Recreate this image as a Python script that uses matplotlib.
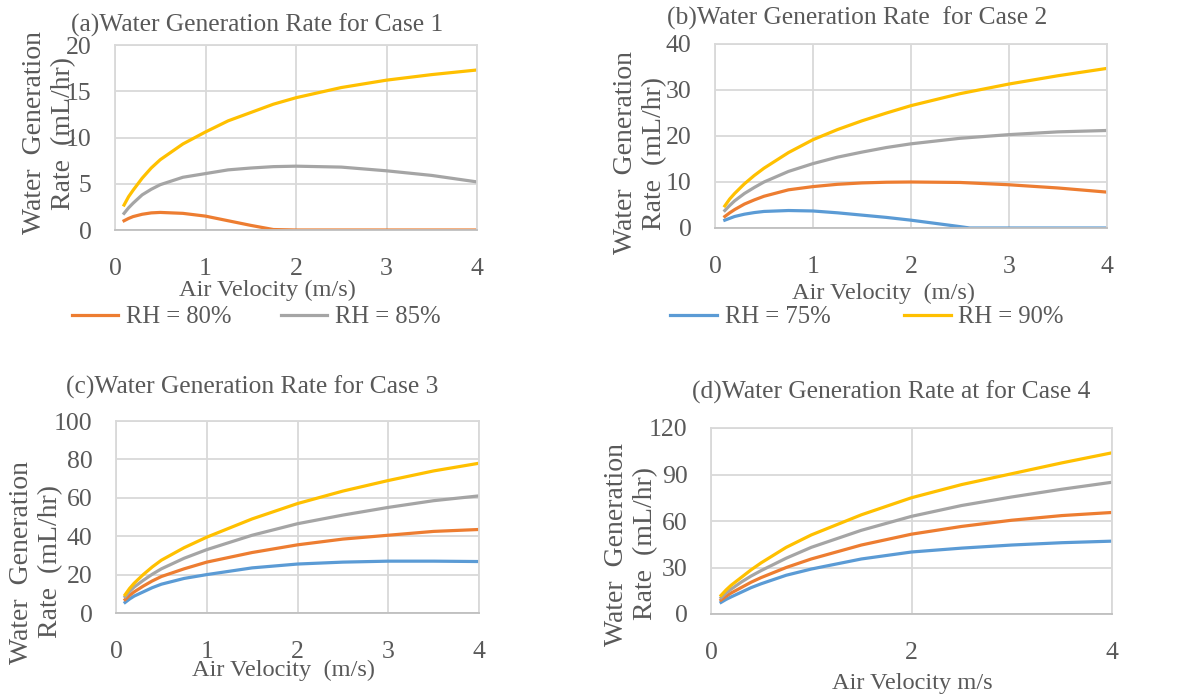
import matplotlib
matplotlib.use('Agg')
import matplotlib.pyplot as plt
from matplotlib.lines import Line2D

plt.rcParams['font.family'] = ['Liberation Serif', 'DejaVu Serif']

# colours used by the spreadsheet the chart came from
c75 = '#5B9BD5'
c80 = '#ED7D31'
c85 = '#A5A5A5'
c90 = '#FFC000'
txt = '#595959'
grid = '#D9D9D9'

# ---- case 1 ----
x1 = [0.1, 0.15, 0.2, 0.3, 0.4, 0.5, 0.75, 1, 1.25, 1.5, 1.75, 2, 2.5, 3, 3.5, 4]
case1_rh80 = [1.0, 1.25, 1.45, 1.7, 1.85, 1.9, 1.8, 1.5, 1.0, 0.5, 0.05, 0, 0, 0, 0, 0]
case1_rh85 = [1.8, 2.4, 2.9, 3.8, 4.4, 4.9, 5.7, 6.1, 6.5, 6.7, 6.85, 6.9, 6.8, 6.4, 5.9, 5.2]
case1_rh90 = [2.7, 3.6, 4.3, 5.6, 6.7, 7.6, 9.3, 10.6, 11.8, 12.7, 13.6, 14.3, 15.4, 16.2, 16.8, 17.3]

# ---- case 2 ----
x2 = [0.1, 0.15, 0.2, 0.3, 0.4, 0.5, 0.75, 1, 1.25, 1.5, 1.75, 2, 2.5, 3, 3.5, 4]
case2_rh80 = [2.5, 3.3, 4.0, 5.2, 6.1, 6.9, 8.3, 9.0, 9.5, 9.8, 9.95, 10, 9.9, 9.4, 8.7, 7.8]
case2_rh85 = [3.8, 4.9, 5.9, 7.5, 8.8, 10, 12.3, 14, 15.4, 16.5, 17.5, 18.3, 19.5, 20.3, 20.9, 21.2]
case2_rh90 = [4.8, 6.3, 7.5, 9.6, 11.4, 13, 16.4, 19.2, 21.4, 23.3, 25, 26.6, 29.2, 31.3, 33.1, 34.7]
x2_rh75 = [0.1, 0.15, 0.2, 0.3, 0.4, 0.5, 0.75, 1, 1.25, 1.5, 1.75, 2, 2.25, 2.5, 2.6, 3, 3.5, 4]
case2_rh75 = [1.7, 2.1, 2.5, 3.0, 3.35, 3.6, 3.8, 3.7, 3.3, 2.8, 2.3, 1.7, 1.0, 0.3, 0, 0, 0, 0]

# ---- case 3 ----
x3 = [0.1, 0.15, 0.2, 0.3, 0.4, 0.5, 0.75, 1, 1.5, 2, 2.5, 3, 3.5, 4]
case3_rh75 = [5.5, 7.3, 8.8, 11, 13.2, 15, 18, 20, 23.5, 25.5, 26.5, 27, 27, 26.8]
case3_rh80 = [7, 9.2, 11, 14, 16.7, 19, 23, 26.5, 31.5, 35.5, 38.5, 40.5, 42.5, 43.5]
case3_rh85 = [8.5, 11.2, 13.5, 17, 20.2, 23, 28.5, 33, 40.5, 46.5, 51, 55, 58.5, 61]
case3_rh90 = [9.5, 12.8, 15.5, 20, 24, 27.5, 34, 39.5, 49, 57, 63.5, 69, 74, 78]

# ---- case 4 ----
x4 = [0.1, 0.15, 0.2, 0.3, 0.4, 0.5, 0.75, 1, 1.5, 2, 2.5, 3, 3.5, 4]
case4_rh75 = [7.5, 9.4, 11, 14, 17, 19.5, 25, 29, 35.5, 40, 42.5, 44.5, 46, 47]
case4_rh80 = [9, 11.4, 13.5, 17, 20.5, 23.5, 30, 35.5, 44.5, 51.5, 56.5, 60.5, 63.5, 65.5]
case4_rh85 = [10.5, 13.5, 16, 20.5, 24.5, 28, 36, 43, 54, 63, 70, 75.5, 80.5, 85]
case4_rh90 = [12, 15.5, 18.5, 23.5, 28.5, 33, 43, 51, 64, 75, 83.5, 90.5, 97.5, 104]

titles = ['(a)Water Generation Rate for Case 1',
          '(b)Water Generation Rate  for Case 2',
          '(c)Water Generation Rate for Case 3',
          '(d)Water Generation Rate at for Case 4']
xlabels = ['Air Velocity (m/s)', 'Air Velocity  (m/s)', 'Air Velocity  (m/s)', 'Air Velocity m/s']
ylabel = 'Water  Generation\nRate  (mL/hr)'

fs_tick = 18.5
fs_title = 18.4
fs_xlab = 17.6
fs_ylab = 20
fs_leg = 17.7
lw = 2.3

fig = plt.figure(figsize=(11.97, 6.99), dpi=100)
W, H = 1197.0, 699.0

def make_axes(l, t, r, b):
    return fig.add_axes([l / W, 1 - b / H, (r - l) / W, (b - t) / H])

axA = make_axes(115, 45, 477, 230)
axB = make_axes(715, 44, 1107, 228)
axC = make_axes(116, 421, 479, 613)
axD = make_axes(711, 428, 1112, 614)

axA.plot(x1, case1_rh80, color=c80, lw=lw)
axA.plot(x1, case1_rh85, color=c85, lw=lw)
axA.plot(x1, case1_rh90, color=c90, lw=lw)

axB.plot(x2_rh75, case2_rh75, color=c75, lw=lw)
axB.plot(x2, case2_rh80, color=c80, lw=lw)
axB.plot(x2, case2_rh85, color=c85, lw=lw)
axB.plot(x2, case2_rh90, color=c90, lw=lw)

axC.plot(x3, case3_rh75, color=c75, lw=lw)
axC.plot(x3, case3_rh80, color=c80, lw=lw)
axC.plot(x3, case3_rh85, color=c85, lw=lw)
axC.plot(x3, case3_rh90, color=c90, lw=lw)

axD.plot(x4, case4_rh75, color=c75, lw=lw)
axD.plot(x4, case4_rh80, color=c80, lw=lw)
axD.plot(x4, case4_rh85, color=c85, lw=lw)
axD.plot(x4, case4_rh90, color=c90, lw=lw)

ylims = [(0, 20, 5), (0, 40, 10), (0, 100, 20), (0, 120, 30)]
xsteps = [1, 1, 1, 2]
for ax, (y0, y1, ys), xs in zip([axA, axB, axC, axD], ylims, xsteps):
    ax.set_xlim(0, 4)
    ax.set_ylim(y0, y1)
    ax.set_xticks(range(0, 5, xs))
    ax.set_yticks(range(y0, y1 + 1, ys))
    ax.grid(True, color=grid, lw=1.3)
    ax.set_axisbelow(True)
    for s in ax.spines.values():
        s.set_color(grid)
        s.set_linewidth(1.3)
    ax.spines['bottom'].set_color('#BFBFBF')
    ax.tick_params(length=0, labelsize=fs_tick, labelcolor=txt)
    ax.tick_params(axis='x', pad=20)
    ax.tick_params(axis='y', pad=17)

# titles, axis labels placed like the original chart boxes
title_pos = [(257, 25), (857, 18), (252, 387), (891, 392)]
for t, (px, py) in zip(titles, title_pos):
    fig.text(px / W, 1 - py / H, t, ha='center', va='center', fontsize=fs_title, color=txt)

xlab_pos = [(267, 290), (884, 293), (283, 670), (912, 683)]
for t, (px, py) in zip(xlabels, xlab_pos):
    fig.text(px / W, 1 - py / H, t, ha='center', va='center', fontsize=fs_xlab, color=txt)

ylab_pos = [(49, 133), (640, 153), (36, 562), (631, 544)]
for px, py in ylab_pos:
    fig.text(px / W, 1 - py / H, ylabel, ha='center', va='center', rotation=90,
             fontsize=fs_ylab, color=txt, multialignment='center', linespacing=1.25)

# legend split under the two top panels
h80 = Line2D([], [], color=c80, lw=lw)
h85 = Line2D([], [], color=c85, lw=lw)
h75 = Line2D([], [], color=c75, lw=lw)
h90 = Line2D([], [], color=c90, lw=lw)
fig.legend([h80, h85], ['RH = 80%', 'RH = 85%'], loc='center', bbox_to_anchor=(256 / W, 1 - 317 / H),
           ncol=2, frameon=False, fontsize=fs_leg, labelcolor=txt, handlelength=1.9,
           handletextpad=0.3, columnspacing=2.0, borderpad=0)
fig.legend([h75, h90], ['RH = 75%', 'RH = 90%'], loc='center', bbox_to_anchor=(867 / W, 1 - 317 / H),
           ncol=2, frameon=False, fontsize=fs_leg, labelcolor=txt, handlelength=1.9,
           handletextpad=0.3, columnspacing=3.0, borderpad=0)

fig.savefig('out.png', dpi=100)
